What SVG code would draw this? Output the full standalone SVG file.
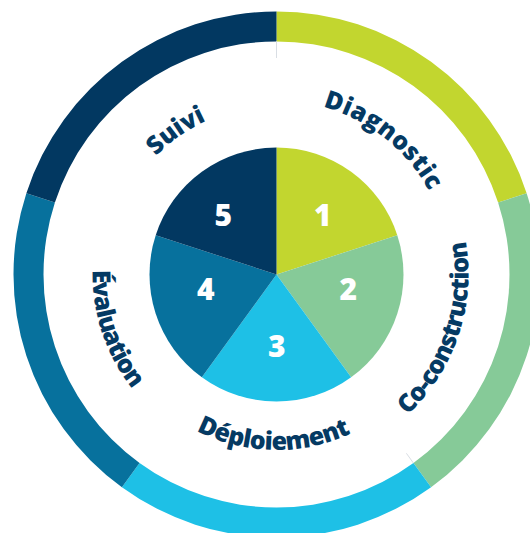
<svg xmlns="http://www.w3.org/2000/svg" xmlns:xlink="http://www.w3.org/1999/xlink" width="530" height="533" viewBox="0 0 530 533">
  <style>
    .lbl { font-family: "Open Sans", "Noto Sans", "Liberation Sans", sans-serif; font-weight: 800; font-size: 25px; fill: #053A63; }
    .num { font-family: "Open Sans", "Noto Sans", "Liberation Sans", sans-serif; font-weight: 800; font-size: 30px; fill: #FFFFFF; text-anchor: middle; }
    .sep { stroke: #D9DEE4; stroke-width: 1; fill: none; }
    .c1 { fill: #C2D62F; }
    .c2 { fill: #86CA98; }
    .c3 { fill: #1EC0E6; }
    .c4 { fill: #07719D; }
    .c5 { fill: #023861; }
  </style>
  <defs>
    <path id="p-suivi" d="M 108.14 289.23 A 169 169 0 0 1 347.92 121.33"/>
    <path id="p-diag" d="M 212.45 112.72 A 174 174 0 0 1 448.63 299.92"/>
    <path id="p-coco" d="M 314.78 462.64 A 192 192 0 0 0 420.30 147.28"/>
    <path id="p-depl" d="M 123.00 359.58 A 175.5 175.5 0 0 0 426.93 364.89"/>
    <path id="p-eval" d="M 138.69 152.58 A 184 184 0 0 0 239.82 454.81"/>
  </defs>
  <rect width="530" height="533" fill="#FFFFFF"/>

  <g id="stage-1">
    <path class="c1" d="M 276.5 11.5 A 263 263 0 0 1 526.63 193.23 L 498.10 202.50 A 233 233 0 0 0 276.5 41.5 Z"/>
    <path class="c1" d="M 276.5 274.5 L 276.5 147.5 A 127 127 0 0 1 397.28 235.25 Z"/>
    <text class="num" x="322.7" y="225.7">1</text>
    <text class="lbl" text-anchor="middle"><textPath xlink:href="#p-diag" href="#p-diag" startOffset="50%" textLength="139" lengthAdjust="spacing">Diagnostic</textPath></text>
  </g>

  <g id="stage-2">
    <path class="c2" d="M 526.63 193.23 A 263 263 0 0 1 431.09 487.27 L 413.45 463.00 A 233 233 0 0 0 498.10 202.50 Z"/>
    <path class="c2" d="M 276.5 274.5 L 397.28 235.25 A 127 127 0 0 1 351.15 377.25 Z"/>
    <text class="num" x="348.3" y="299.7">2</text>
    <text class="lbl" text-anchor="middle"><textPath xlink:href="#p-coco" href="#p-coco" startOffset="50%" textLength="191" lengthAdjust="spacing">Co-construction</textPath></text>
  </g>

  <g id="stage-3">
    <path class="c3" d="M 431.09 487.27 A 263 263 0 0 1 121.91 487.27 L 139.55 463.00 A 233 233 0 0 0 413.45 463.00 Z"/>
    <path class="c3" d="M 276.5 274.5 L 351.15 377.25 A 127 127 0 0 1 201.85 377.25 Z"/>
    <text class="num" x="276.7" y="357.4">3</text>
    <text class="lbl" text-anchor="middle"><textPath xlink:href="#p-depl" href="#p-depl" startOffset="50%" textLength="160" lengthAdjust="spacing">Déploiement</textPath></text>
  </g>

  <g id="stage-4">
    <path class="c4" d="M 121.91 487.27 A 263 263 0 0 1 26.37 193.23 L 54.90 202.50 A 233 233 0 0 0 139.55 463.00 Z"/>
    <path class="c4" d="M 276.5 274.5 L 201.85 377.25 A 127 127 0 0 1 155.72 235.25 Z"/>
    <text class="num" x="205.7" y="300">4</text>
    <text class="lbl" text-anchor="middle"><textPath xlink:href="#p-eval" href="#p-eval" startOffset="50%" textLength="128" lengthAdjust="spacing">Évaluation</textPath></text>
  </g>

  <g id="stage-5">
    <path class="c5" d="M 26.37 193.23 A 263 263 0 0 1 276.5 11.5 L 276.5 41.5 A 233 233 0 0 0 54.90 202.50 Z"/>
    <path class="c5" d="M 276.5 274.5 L 155.72 235.25 A 127 127 0 0 1 276.5 147.5 Z"/>
    <text class="num" x="223.3" y="225.7">5</text>
    <text class="lbl" text-anchor="middle"><textPath xlink:href="#p-suivi" href="#p-suivi" startOffset="50%" textLength="62" lengthAdjust="spacing">Suivi</textPath></text>
  </g>

  <g id="connectors">
    <line class="sep" x1="276.5" y1="41.5" x2="276.5" y2="58"/>
    <line class="sep" x1="406.4" y1="453.3" x2="413.4" y2="463"/>
  </g>
</svg>
